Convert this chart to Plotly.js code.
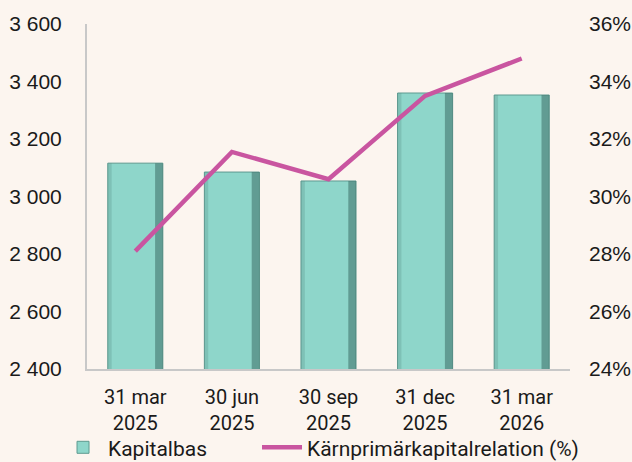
<!DOCTYPE html>
<html><head><meta charset="utf-8">
<script src="https://cdn.plot.ly/plotly-3.0.1.min.js"></script>
<style>body{margin:0;background:#FCF5EF}</style>
</head><body><div id="chart" style="width:632px;height:462px"></div>
<script>
const categories = ["31 mar<br>2025","30 jun<br>2025","30 sep<br>2025","31 dec<br>2025","31 mar<br>2026"];
const kapitalbas = [3116, 3085, 3054, 3360, 3353];
const karnprimar = [28.1, 31.55, 30.6, 33.5, 34.8];
const leftTicks = [2400, 2600, 2800, 3000, 3200, 3400, 3600];
const leftTickText = ["2 400","2 600","2 800","3 000","3 200","3 400","3 600"];
const rightTicks = [24, 26, 28, 30, 32, 34, 36];
const rightTickText = ["24%","26%","28%","30%","32%","34%","36%"];

const traces = [
  {type:'bar', x:categories, y:kapitalbas, name:'Kapitalbas', width:0.57, offset:-0.285,
   marker:{color:'#8ED6CA', line:{color:'#5E9A90', width:1}}, hoverinfo:'y', legend:'legend'},
  {type:'bar', x:categories, y:kapitalbas, name:'Kapitalbas', width:0.08, offset:0.205,
   marker:{color:'rgba(60,110,102,0.55)', line:{width:0}}, showlegend:false, hoverinfo:'skip'},
  {type:'bar', x:categories, y:kapitalbas, name:'Kapitalbas', width:0.04, offset:-0.285,
   marker:{color:'rgba(80,130,122,0.25)', line:{width:0}}, showlegend:false, hoverinfo:'skip'},
  {type:'scatter', mode:'lines', x:categories, y:karnprimar, yaxis:'y2', legend:'legend2',
   name:'Kärnprimärkapitalrelation (%)', line:{color:'#C955A0', width:4.5}}
];
const legendBase = {orientation:'h', xanchor:'left', y:-0.228, yanchor:'middle',
          font:{size:21}, itemwidth:40, bgcolor:'rgba(0,0,0,0)'};
const layout = {
  width:632, height:462,
  paper_bgcolor:'#FCF5EF', plot_bgcolor:'#FCF5EF',
  margin:{l:87, r:62, t:24, b:93, autoexpand:false},
  barmode:'overlay',
  font:{family:'Roboto, sans-serif', size:20, color:'#1a1a1a'},
  showlegend:true,
  legend:Object.assign({}, legendBase, {x:-0.060}),
  legend2:Object.assign({}, legendBase, {x:0.352}),
  xaxis:{showline:true, linecolor:'#C8C8C8', linewidth:2, ticks:'', showgrid:false,
         ticklabelstandoff:9, tickfont:{family:'Roboto, sans-serif', size:20}},
  yaxis:{range:[2400,3600], tickvals:leftTicks, ticktext:leftTickText, showgrid:false, zeroline:false,
         showline:true, linecolor:'#C8C8C8', linewidth:2, ticks:'', ticklabelstandoff:19,
         tickfont:{family:'Liberation Sans, Arial, sans-serif', size:21}},
  yaxis2:{range:[24,36], tickvals:rightTicks, ticktext:rightTickText, overlaying:'y', side:'right',
          showgrid:false, zeroline:false, showline:false, ticks:'', ticklabelstandoff:18,
          tickfont:{family:'Liberation Sans, Arial, sans-serif', size:21}}
};
Plotly.newPlot('chart', traces, layout, {displayModeBar:false});
</script></body></html>
